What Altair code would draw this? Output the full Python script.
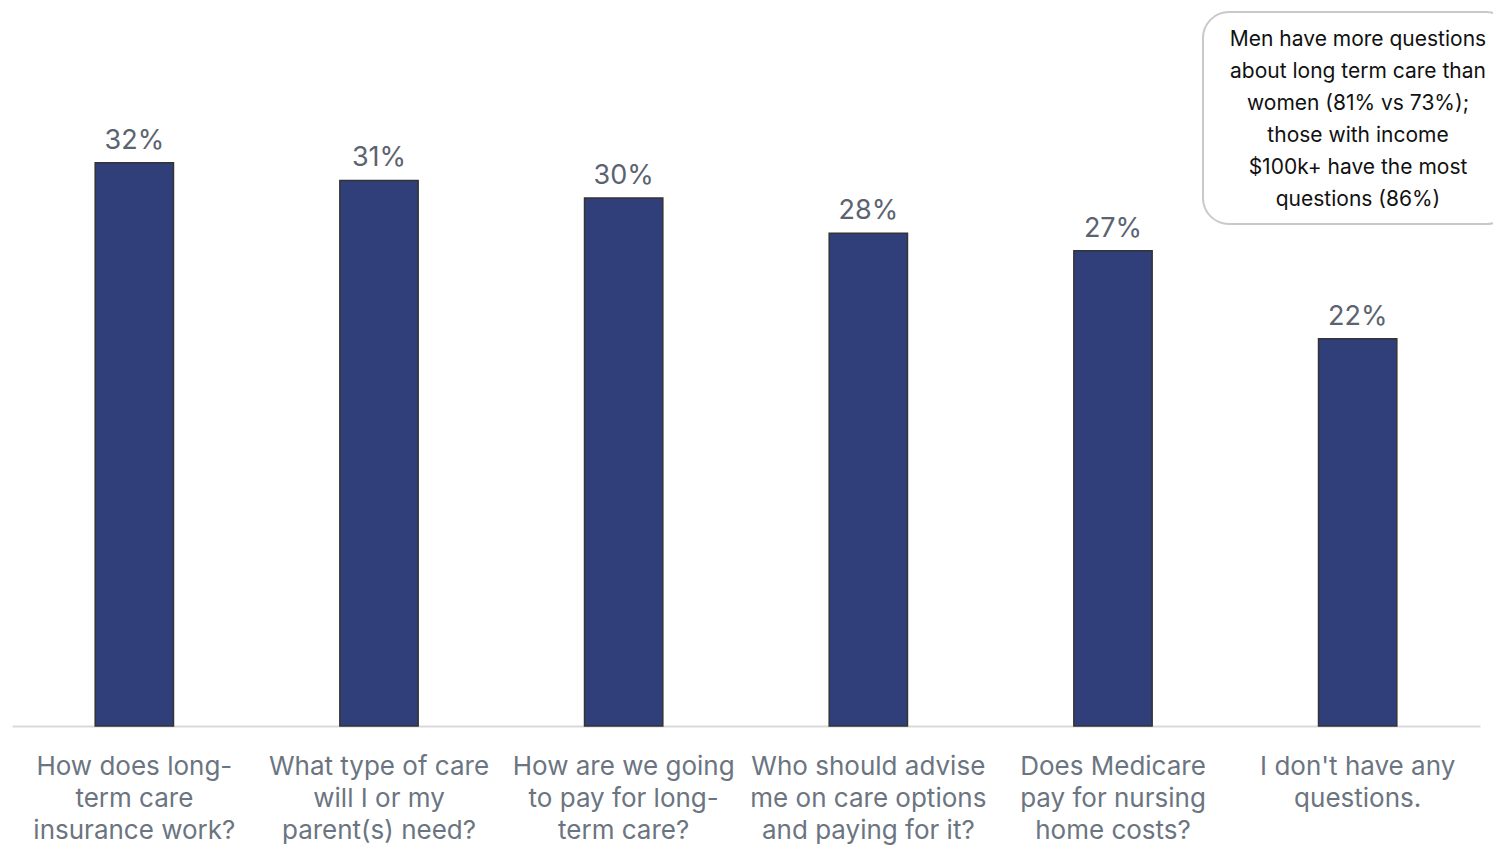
import altair as alt
import pandas as pd

categories = [
    "How does long-|term care|insurance work?",
    "What type of care|will I or my|parent(s) need?",
    "How are we going|to pay for long-|term care?",
    "Who should advise|me on care options|and paying for it?",
    "Does Medicare|pay for nursing|home costs?",
    "I don't have any|questions.",
]
values = [32, 31, 30, 28, 27, 22]
value_labels = ["32%", "31%", "30%", "28%", "27%", "22%"]
note_lines = [
    "Men have more questions",
    "about long term care  than",
    "women (81% vs 73%);",
    "those with income",
    "$100k+ have the most",
    "questions  (86%)",
]

df = pd.DataFrame({"cat": categories, "val": values, "lab": value_labels})
FONT = "Inter"

x = alt.X(
    "cat:N",
    sort=categories,
    scale=alt.Scale(paddingInner=0.68, paddingOuter=0.34),
    axis=alt.Axis(
        title=None,
        labelAngle=0,
        labelExpr="split(datum.label, '|')",
        labelFontSize=26,
        labelLineHeight=32,
        labelColor="#6b7581",
        labelFont=FONT,
        labelPadding=27,
        labelBaseline="top",
        ticks=False,
        domainColor="#d9d9d9",
        domainWidth=2,
        labelLimit=400,
    ),
)
y = alt.Y("val:Q", scale=alt.Scale(domain=[0, 40]), axis=None)

bars = alt.Chart(df).mark_bar(
    color="#303f7a", stroke="#333333", strokeWidth=1.5
).encode(x=x, y=y)

texts = alt.Chart(df).mark_text(
    baseline="alphabetic", dy=-14, fontSize=27, color="#5b6370", font=FONT
).encode(x=x, y=y, text="lab:N")

note_df = pd.DataFrame({"t": ["\n".join(note_lines)]})
box = alt.Chart(note_df).mark_rect(
    fill="white", stroke="#c9c9c9", strokeWidth=2, cornerRadius=26
).encode(
    x=alt.value(1191), x2=alt.value(1500), y=alt.value(-10), y2=alt.value(202)
)
note = alt.Chart(note_df).mark_text(
    lineBreak="\n", lineHeight=32, fontSize=21, color="#111111",
    font=FONT, align="center", baseline="middle"
).encode(x=alt.value(1346), y=alt.value(18), text="t:N")

chart = (
    alt.layer(bars, texts, box, note)
    .properties(
        width=1468,
        height=704,
        autosize=alt.AutoSizeParams(type="none"),
        padding={"left": 4, "top": 14, "right": 13, "bottom": 120},
    )
    .configure_view(stroke=None)
)

chart.save("out.html", embed_options={"renderer": "svg", "actions": False})
